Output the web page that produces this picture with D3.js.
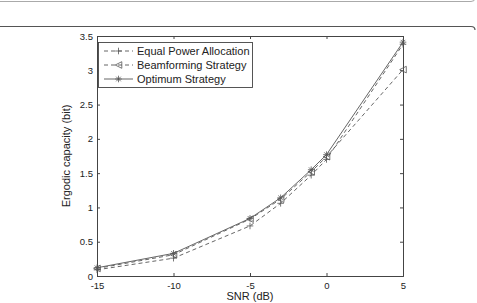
<!DOCTYPE html>
<html><head><meta charset="utf-8">
<script src="https://cdn.jsdelivr.net/npm/d3@7"></script>
<style>body{margin:0;background:#fff}svg{display:block}text{font-family:"Liberation Sans",Arial,sans-serif;fill:#222}</style>
</head><body><svg id="c" width="477" height="303"></svg>
<script>
const snr = [-15, -10, -5, -3, -1, 0, 5];
const equalPower = [0.09, 0.26, 0.73, 1.06, 1.47, 1.70, 3.38];
const beamforming = [0.11, 0.31, 0.83, 1.12, 1.52, 1.74, 3.01];
const optimum = [0.12, 0.33, 0.84, 1.14, 1.55, 1.77, 3.41];
const xTicks = [-15, -10, -5, 0, 5];
const yTicks = [0, 0.5, 1, 1.5, 2, 2.5, 3, 3.5];
const seriesNames = ["Equal Power Allocation", "Beamforming Strategy", "Optimum Strategy"];

const svg = d3.select("#c");
const L = 97, R = 403, T = 36, B = 276;
const x = d3.scaleLinear().domain([-15, 5]).range([L, R]);
const y = d3.scaleLinear().domain([0, 3.5]).range([B, T]);

// page frame lines
svg.append("path").attr("d", `M0,1.5 H471 Q475,1.5 475,-2`).attr("fill","none").attr("stroke","#aaa").attr("stroke-width",1);
svg.append("path").attr("d", `M0,26.5 H471 Q475,26.5 475,30`).attr("fill","none").attr("stroke","#555").attr("stroke-width",1.2);

const g = svg.append("g");
const axisCol = "#444";
const tl = 3;
g.append("g").attr("transform",`translate(0,${B})`).call(d3.axisBottom(x).tickValues(xTicks).tickSize(-tl).tickPadding(6).tickFormat(d=>String(d)));
g.append("g").attr("transform",`translate(0,${T})`).call(d3.axisTop(x).tickValues(xTicks).tickSize(-tl).tickFormat(""));
g.append("g").attr("transform",`translate(${L},0)`).call(d3.axisLeft(y).tickValues(yTicks).tickSize(-tl).tickPadding(4).tickFormat(d=>String(d)));
g.append("g").attr("transform",`translate(${R},0)`).call(d3.axisRight(y).tickValues(yTicks).tickSize(-tl).tickFormat(""));
g.selectAll(".domain").attr("stroke",axisCol);
g.selectAll(".tick line").attr("stroke",axisCol);
g.selectAll(".tick text").attr("font-size","9.5px").attr("fill","#222").style("font-family","Liberation Sans, Arial, sans-serif");

// axis labels
svg.append("text").attr("x",(L+R)/2).attr("y",300).attr("text-anchor","middle").attr("font-size","11px").text("SNR (dB)");
svg.append("text").attr("transform",`translate(70,${(T+B)/2}) rotate(-90)`).attr("text-anchor","middle").attr("font-size","11px").text("Ergodic capacity (bit)");

const lineCol = "#555";
const line = d3.line().x((d,i)=>x(snr[i])).y(d=>y(d));
const series = [
  {vals: equalPower, dash:"4,3", marker:"plus"},
  {vals: beamforming, dash:"4,3", marker:"tri"},
  {vals: optimum, dash:null, marker:"star"}
];
function drawMarker(sel, type, cx, cy){
  const s = 3.3;
  if(type==="plus"){
    sel.append("path").attr("d",`M${cx-s},${cy}H${cx+s}M${cx},${cy-s}V${cy+s}`).attr("stroke",lineCol).attr("stroke-width",0.8).attr("fill","none");
  } else if(type==="tri"){
    sel.append("path").attr("d",`M${cx-s},${cy}L${cx+s},${cy-s}L${cx+s},${cy+s}Z`).attr("stroke",lineCol).attr("stroke-width",0.8).attr("fill","none");
  } else {
    const d = s*0.7;
    sel.append("path").attr("d",`M${cx-s},${cy}H${cx+s}M${cx},${cy-s}V${cy+s}M${cx-d},${cy-d}L${cx+d},${cy+d}M${cx-d},${cy+d}L${cx+d},${cy-d}`).attr("stroke",lineCol).attr("stroke-width",0.8).attr("fill","none");
  }
}
series.forEach(s=>{
  svg.append("path").datum(s.vals).attr("d",line).attr("fill","none").attr("stroke",lineCol).attr("stroke-width",0.9).attr("stroke-dasharray",s.dash);
  const mg = svg.append("g");
  s.vals.forEach((v,i)=>drawMarker(mg, s.marker, x(snr[i]), y(v)));
});

// legend
const lg = svg.append("g");
lg.append("rect").attr("x",98.5).attr("y",42.5).attr("width",154).attr("height",45).attr("fill","#fff").attr("stroke","#444").attr("stroke-width",0.9);
const ly = [51, 65, 79];
series.forEach((s,i)=>{
  lg.append("line").attr("x1",104).attr("x2",133).attr("y1",ly[i]).attr("y2",ly[i]).attr("stroke",lineCol).attr("stroke-width",0.9).attr("stroke-dasharray",s.dash);
  drawMarker(lg, s.marker, 118.5, ly[i]);
  lg.append("text").attr("x",137).attr("y",ly[i]+4).attr("font-size","11px").text(seriesNames[i]);
});
</script></body></html>
